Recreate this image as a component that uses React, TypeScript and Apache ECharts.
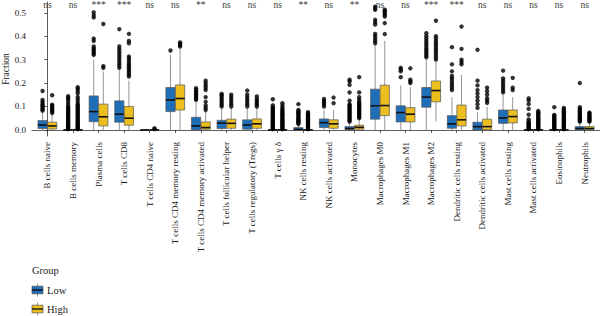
import React, { useEffect, useRef } from "react";
import * as echarts from "echarts";

const categories = [
  "B cells naive",
  "B cells memory",
  "Plasma cells",
  "T cells CD8",
  "T cells CD4 naive",
  "T cells CD4 memory resting",
  "T cells CD4 memory activated",
  "T cells follicular helper",
  "T cells regulatory (Tregs)",
  "T cells γ δ",
  "NK cells resting",
  "NK cells activated",
  "Monocytes",
  "Macrophages M0",
  "Macrophages M1",
  "Macrophages M2",
  "Dendritic cells resting",
  "Dendritic cells activated",
  "Mast cells resting",
  "Mast cells activated",
  "Eosinophils",
  "Neutrophils",
];

const significance = [
  "ns", "ns", "***", "***", "ns", "ns", "**", "ns", "ns", "ns", "**",
  "ns", "**", "ns", "ns", "***", "***", "ns", "ns", "ns", "ns", "ns",
];

const groups = ["Low", "High"];

// [lower whisker, Q1, median, Q3, upper whisker]
const lowBoxes = [
  [0, 0.006, 0.021, 0.04, 0.075],
  [0, 0, 0, 0.001, 0.002],
  [0, 0.035, 0.078, 0.145, 0.3],
  [0, 0.033, 0.067, 0.124, 0.255],
  [0, 0, 0, 0, 0.001],
  [0, 0.078, 0.128, 0.181, 0.32],
  [0, 0, 0.017, 0.054, 0.12],
  [0, 0.006, 0.029, 0.041, 0.09],
  [0, 0.003, 0.021, 0.043, 0.09],
  [0, 0, 0, 0.001, 0.002],
  [0, 0, 0.002, 0.01, 0.02],
  [0, 0.01, 0.031, 0.047, 0.085],
  [0, 0.001, 0.006, 0.014, 0.03],
  [0, 0.046, 0.103, 0.174, 0.36],
  [0, 0.034, 0.074, 0.103, 0.19],
  [0, 0.097, 0.14, 0.181, 0.3],
  [0, 0.007, 0.026, 0.061, 0.14],
  [0, 0, 0.014, 0.033, 0.075],
  [0, 0.028, 0.051, 0.085, 0.15],
  [0, 0, 0, 0.001, 0.002],
  [0, 0, 0, 0.001, 0.002],
  [0, 0, 0.006, 0.014, 0.03],
];

const highBoxes = [
  [0, 0.004, 0.017, 0.033, 0.066],
  [0, 0, 0, 0.001, 0.002],
  [0, 0.017, 0.056, 0.11, 0.25],
  [0, 0.02, 0.05, 0.1, 0.21],
  [0, 0, 0, 0, 0.001],
  [0, 0.085, 0.134, 0.192, 0.345],
  [0, 0.003, 0.01, 0.034, 0.078],
  [0, 0.007, 0.028, 0.046, 0.095],
  [0, 0.007, 0.026, 0.047, 0.095],
  [0, 0, 0, 0.001, 0.002],
  [0, 0, 0, 0.001, 0.002],
  [0, 0.007, 0.026, 0.043, 0.085],
  [0, 0.003, 0.011, 0.02, 0.045],
  [0, 0.061, 0.104, 0.191, 0.38],
  [0, 0.034, 0.067, 0.095, 0.182],
  [0.036, 0.12, 0.168, 0.209, 0.29],
  [0, 0.017, 0.043, 0.106, 0.235],
  [0, 0.001, 0.014, 0.046, 0.1],
  [0, 0.03, 0.057, 0.085, 0.14],
  [0, 0, 0, 0.001, 0.002],
  [0, 0, 0, 0.001, 0.002],
  [0, 0.001, 0.006, 0.014, 0.03],
];

const lowOutliers = [
  [0.082, 0.088, 0.094, 0.1, 0.106, 0.112, 0.12, 0.128, 0.166],
  [0.003, 0.007, 0.011, 0.015, 0.019, 0.023, 0.027, 0.031, 0.035, 0.04, 0.045, 0.05, 0.055, 0.06, 0.065, 0.07, 0.075, 0.08, 0.085, 0.09, 0.095, 0.1, 0.11, 0.12, 0.13, 0.137, 0.144],
  [0.32, 0.327, 0.334, 0.341, 0.348, 0.356, 0.38, 0.39, 0.48, 0.49, 0.502],
  [0.265, 0.275, 0.285, 0.295, 0.305, 0.315, 0.325, 0.335, 0.345, 0.356, 0.43],
  [],
  [0.339],
  [0.128, 0.134, 0.14, 0.146, 0.152, 0.158, 0.164, 0.17, 0.178],
  [0.1, 0.108, 0.116, 0.124, 0.132, 0.14, 0.148, 0.154],
  [0.1, 0.11, 0.12, 0.13, 0.14, 0.15, 0.168],
  [0.003, 0.007, 0.011, 0.015, 0.019, 0.023, 0.027, 0.031, 0.036, 0.041, 0.046, 0.051, 0.056, 0.061, 0.066, 0.071, 0.076, 0.081, 0.086, 0.091, 0.097, 0.105, 0.131],
  [0.025, 0.029, 0.033, 0.037, 0.041, 0.045, 0.05, 0.055, 0.06, 0.065, 0.07, 0.075, 0.08, 0.085, 0.11],
  [0.1, 0.108, 0.116, 0.124, 0.132],
  [0.035, 0.04, 0.045, 0.05, 0.055, 0.06, 0.065, 0.07, 0.075, 0.08, 0.085, 0.09, 0.095, 0.1, 0.105, 0.11, 0.125, 0.16, 0.192, 0.207, 0.214],
  [0.37, 0.38, 0.39, 0.4, 0.41, 0.45, 0.46, 0.47, 0.513, 0.52, 0.526],
  [0.225, 0.25, 0.258, 0.265],
  [0.31, 0.318, 0.326, 0.334, 0.342, 0.35, 0.36, 0.37, 0.38, 0.39, 0.4, 0.413],
  [0.17, 0.18, 0.19, 0.2, 0.21, 0.22, 0.23, 0.25, 0.28, 0.353],
  [0.094, 0.11, 0.125, 0.14, 0.155, 0.17, 0.19, 0.21, 0.342],
  [0.16, 0.17, 0.18, 0.19, 0.2, 0.21, 0.22, 0.253],
  [0.003, 0.007, 0.011, 0.015, 0.019, 0.023, 0.027, 0.031, 0.036, 0.045, 0.065, 0.09, 0.11, 0.125, 0.135],
  [0.003, 0.007, 0.011, 0.015, 0.019, 0.023, 0.027, 0.031, 0.035, 0.04, 0.045, 0.05, 0.055, 0.06, 0.064, 0.097],
  [0.035, 0.039, 0.043, 0.047, 0.051, 0.055, 0.06, 0.065, 0.07, 0.075, 0.08, 0.085, 0.09, 0.097, 0.2],
];

const highOutliers = [
  [0.072, 0.078, 0.084, 0.09, 0.096, 0.102, 0.108, 0.148],
  [0.003, 0.007, 0.011, 0.015, 0.019, 0.023, 0.027, 0.031, 0.035, 0.04, 0.045, 0.05, 0.055, 0.06, 0.065, 0.07, 0.075, 0.08, 0.085, 0.09, 0.095, 0.1, 0.105, 0.11, 0.12, 0.13, 0.14, 0.155, 0.165, 0.175, 0.182],
  [0.265, 0.272, 0.452],
  [0.228, 0.236, 0.244, 0.252, 0.26, 0.268, 0.276, 0.285, 0.295, 0.305, 0.313, 0.37, 0.38, 0.41],
  [0.004, 0.006],
  [0.356, 0.362, 0.368, 0.373],
  [0.085, 0.095, 0.105, 0.12, 0.14, 0.17, 0.18, 0.19, 0.2, 0.21],
  [0.1, 0.11, 0.12, 0.13, 0.14, 0.15],
  [0.1, 0.108, 0.116, 0.124, 0.132, 0.143],
  [0.003, 0.007, 0.011, 0.015, 0.019, 0.023, 0.027, 0.031, 0.036, 0.041, 0.046, 0.051, 0.056, 0.061, 0.066, 0.071, 0.076, 0.081, 0.087, 0.095, 0.104, 0.114],
  [0.003, 0.007, 0.011, 0.015, 0.019, 0.023, 0.027, 0.031, 0.035, 0.04, 0.045, 0.05, 0.055, 0.06, 0.065, 0.07, 0.076],
  [0.114, 0.138],
  [0.05, 0.055, 0.06, 0.065, 0.07, 0.075, 0.08, 0.085, 0.09, 0.095, 0.1, 0.105, 0.11, 0.115, 0.12, 0.13, 0.14, 0.16, 0.225],
  [0.409, 0.456, 0.484, 0.492, 0.5, 0.507, 0.513],
  [0.2, 0.207, 0.214, 0.263],
  [0.3, 0.31, 0.32, 0.33, 0.34, 0.35, 0.36, 0.37, 0.38, 0.39, 0.4, 0.466],
  [0.28, 0.29, 0.3, 0.346, 0.441],
  [0.115, 0.125, 0.135, 0.15, 0.165, 0.18],
  [0.17, 0.18, 0.222],
  [0.003, 0.007, 0.011, 0.015, 0.019, 0.023, 0.027, 0.031, 0.035, 0.04, 0.045, 0.05, 0.055, 0.06, 0.065, 0.07, 0.075, 0.081],
  [0.003, 0.007, 0.011, 0.015, 0.019, 0.023, 0.027, 0.031, 0.035, 0.04, 0.045, 0.05, 0.055, 0.06, 0.065, 0.07, 0.075, 0.08, 0.087, 0.094],
  [0.035, 0.039, 0.043, 0.047, 0.051, 0.055, 0.06, 0.065, 0.07, 0.074],
];

const yTicks = [0, 0.1, 0.2, 0.3, 0.4, 0.5];

const FONT = "'Liberation Serif', 'DejaVu Serif', serif";
const COLORS = ["#1F6FB8", "#EDBF1E"];
const OFFSETS = [-0.1875, 0.1875];
const HALF_BOX = 0.18;
const SIG_Y = 0.512;
const X_MIN = -0.6;

function boxSeries(boxes: number[][], offset: number, color: string) {
  return {
    type: "custom",
    z: 2,
    data: boxes.map((b, i) => [i + offset, ...b]),
    renderItem: (_params: any, api: any) => {
      const x = api.value(0);
      const lo = api.coord([x, api.value(1)]);
      const q1 = api.coord([x, api.value(2)]);
      const med = api.coord([x, api.value(3)]);
      const q3 = api.coord([x, api.value(4)]);
      const hi = api.coord([x, api.value(5)]);
      const left = api.coord([x - HALF_BOX, 0])[0];
      const right = api.coord([x + HALF_BOX, 0])[0];
      return {
        type: "group",
        children: [
          {
            type: "line",
            shape: { x1: lo[0], y1: lo[1], x2: hi[0], y2: hi[1] },
            style: { stroke: "#8a8a8a", lineWidth: 0.9 },
          },
          {
            type: "rect",
            shape: { x: left, y: q3[1], width: right - left, height: Math.max(q1[1] - q3[1], 0.6) },
            style: { fill: color, stroke: "#555", lineWidth: 0.7 },
          },
          {
            type: "line",
            shape: { x1: left, y1: med[1], x2: right, y2: med[1] },
            style: { stroke: "#111", lineWidth: 1.6 },
          },
        ],
      };
    },
  };
}

function outlierSeries(outliers: number[][], offset: number) {
  const data: number[][] = [];
  outliers.forEach((vals, i) => vals.forEach((v) => data.push([i + offset, v])));
  return {
    type: "scatter",
    z: 3,
    symbol: "circle",
    symbolSize: 4.4,
    itemStyle: { color: "#000" },
    data,
  };
}

export default function App() {
  const ref = useRef<HTMLDivElement>(null);

  useEffect(() => {
    if (!ref.current) return;
    const chart = echarts.init(ref.current, null, { renderer: "svg" });
    const idx = categories.map((_, i) => i);

    const legendItems = groups.flatMap((g, k) => {
      const cy = k === 0 ? 290 : 309;
      return [
        { type: "line", shape: { x1: 37.5, y1: cy - 6.5, x2: 37.5, y2: cy + 6.5 }, style: { stroke: "#8a8a8a", lineWidth: 0.9 } },
        { type: "rect", shape: { x: 32, y: cy - 3.8, width: 11, height: 7.6 }, style: { fill: COLORS[k], stroke: "#555", lineWidth: 0.7 } },
        { type: "line", shape: { x1: 32, y1: cy, x2: 43, y2: cy }, style: { stroke: "#111", lineWidth: 1.4 } },
        { type: "text", x: 47, y: cy, style: { text: g, font: `10.5px ${FONT}`, fill: "#1a1a1a", verticalAlign: "middle", align: "left" } },
      ];
    });

    chart.setOption({
      animation: false,
      grid: {
        left: 32,
        right: 0,
        top: 2,
        height: 134,
        containLabel: false,
        outerBoundsMode: "none",
      },
      xAxis: {
        type: "value",
        min: X_MIN,
        max: categories.length - 1 + 0.6,
        splitLine: { show: false },
        axisLine: { show: true, lineStyle: { color: "#333", width: 0.8 } },
        axisTick: { show: true, customValues: idx, length: 3, lineStyle: { color: "#333", width: 0.8 } },
        axisLabel: {
          customValues: idx,
          rotate: 90,
          margin: 6,
          fontSize: 9,
          fontFamily: FONT,
          color: "#1a1a1a",
          formatter: (v: number) => categories[Math.round(v)] ?? "",
        },
      },
      yAxis: {
        type: "value",
        min: -0.026,
        max: 0.546,
        name: "Fraction",
        nameLocation: "middle",
        nameGap: 21,
        nameRotate: 90,
        nameTextStyle: { fontSize: 9.5, fontFamily: FONT, color: "#1a1a1a" },
        splitLine: { show: false },
        axisLine: { show: true, lineStyle: { color: "#333", width: 0.8 } },
        axisTick: { show: true, customValues: yTicks, length: 3, lineStyle: { color: "#333", width: 0.8 } },
        axisLabel: { show: false },
      },
      series: [
        boxSeries(lowBoxes, OFFSETS[0], COLORS[0]),
        boxSeries(highBoxes, OFFSETS[1], COLORS[1]),
        outlierSeries(lowOutliers, OFFSETS[0]),
        outlierSeries(highOutliers, OFFSETS[1]),
        {
          // y tick labels, placed through the y scale just left of the axis ticks
          type: "custom",
          z: 4,
          clip: false,
          data: yTicks.map((v) => [X_MIN, v]),
          renderItem: (_params: any, api: any) => {
            const p = api.coord([api.value(0), api.value(1)]);
            return {
              type: "text",
              x: p[0] - 6,
              y: p[1],
              style: {
                text: Number(api.value(1)).toFixed(1),
                font: `9px ${FONT}`,
                fill: "#1a1a1a",
                align: "right",
                verticalAlign: "middle",
              },
            };
          },
        },
        {
          type: "custom",
          z: 4,
          data: significance.map((s, i) => [i, SIG_Y]),
          renderItem: (params: any, api: any) => {
            const p = api.coord([api.value(0), api.value(1)]);
            return {
              type: "text",
              x: p[0],
              y: p[1],
              style: {
                text: significance[params.dataIndex],
                font: `9.5px ${FONT}`,
                fill: "#3a3a3a",
                align: "center",
                verticalAlign: "bottom",
              },
            };
          },
        },
      ],
      graphic: [
        { type: "text", left: 32, top: 265, style: { text: "Group", font: `10.5px ${FONT}`, fill: "#1a1a1a" } },
        ...legendItems,
      ],
    });

    return () => chart.dispose();
  }, []);

  return (
    <div
      ref={ref}
      style={{ position: "absolute", left: 0, top: 0, width: 600, height: 316, background: "#fff" }}
    />
  );
}
